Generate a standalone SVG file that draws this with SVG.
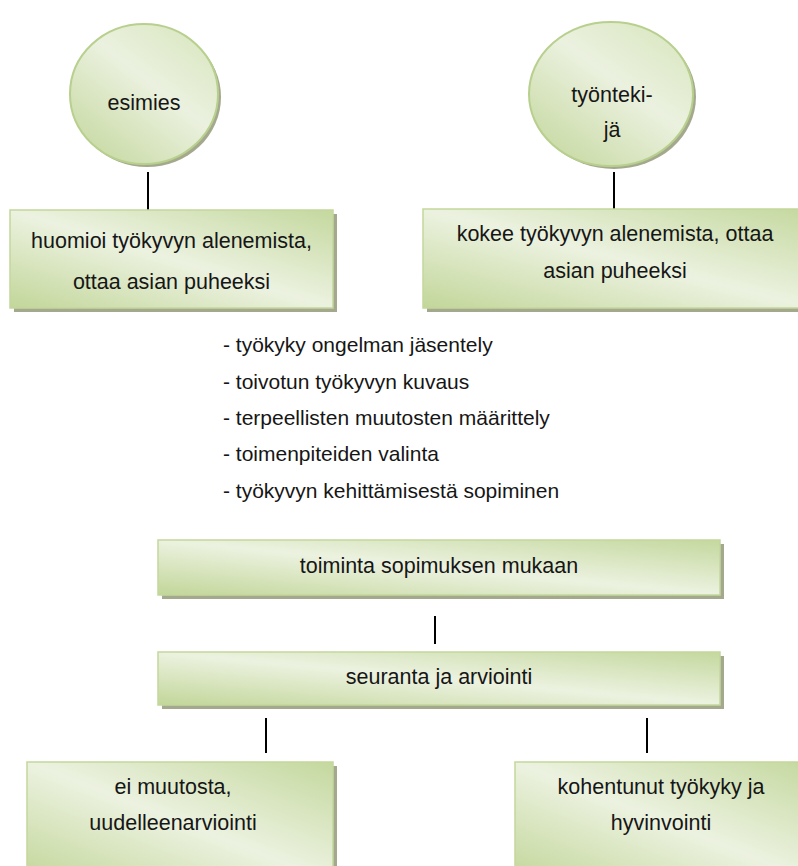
<svg xmlns="http://www.w3.org/2000/svg" width="798" height="866" viewBox="0 0 798 866">
  <defs>
    <linearGradient id="boxFill" x1="1" y1="0" x2="0" y2="1">
      <stop offset="0" stop-color="#c4d89e"/>
      <stop offset="0.5" stop-color="#ecf2e0"/>
      <stop offset="1" stop-color="#c2d699"/>
    </linearGradient>
    <linearGradient id="circleFill" x1="0.85" y1="0.1" x2="0.15" y2="0.95">
      <stop offset="0" stop-color="#dce8c5"/>
      <stop offset="0.4" stop-color="#ebf1df"/>
      <stop offset="1" stop-color="#c8daa4"/>
    </linearGradient>
    <style>
      .box { fill: url(#boxFill); stroke: #c3d79c; stroke-width: 1.5; }
      .bubble { fill: url(#circleFill); stroke: #b8d08e; stroke-width: 2; }
      .shadow { fill: #a4a98d; }
      .label { font-family: "Liberation Sans", Arial, sans-serif; font-size: 21.5px; fill: #161616; text-anchor: middle; }
      .list { font-family: "Liberation Sans", Arial, sans-serif; font-size: 21px; fill: #161616; }
      .link { stroke: #000; stroke-width: 2; fill: none; }
    </style>
  </defs>

  <rect width="798" height="866" fill="#ffffff"/>

  <!-- connectors -->
  <g id="connectors">
    <line class="link" x1="148" y1="172" x2="148" y2="211"/>
    <line class="link" x1="614" y1="172" x2="614" y2="210"/>
    <line class="link" x1="435" y1="616" x2="435" y2="644"/>
    <line class="link" x1="266" y1="718" x2="266" y2="753"/>
    <line class="link" x1="647" y1="718" x2="647" y2="753"/>
  </g>

  <!-- supervisor -->
  <g id="esimies">
    <ellipse class="shadow" cx="147" cy="97" rx="74" ry="70"/>
    <ellipse class="bubble" cx="144" cy="94" rx="74" ry="70"/>
    <text class="label" x="144" y="110">esimies</text>
  </g>

  <!-- employee -->
  <g id="tyontekija">
    <ellipse class="shadow" cx="614" cy="97" rx="82" ry="72"/>
    <ellipse class="bubble" cx="611" cy="94" rx="82" ry="72"/>
    <text class="label" x="612" y="102">työnteki-</text>
    <text class="label" x="612" y="137">jä</text>
  </g>

  <g id="huomioi">
    <rect class="shadow" x="14" y="214" width="323" height="98"/>
    <rect class="box" x="10" y="210" width="323" height="98"/>
    <text class="label" x="171.5" y="248">huomioi työkyvyn alenemista,</text>
    <text class="label" x="171.5" y="289">ottaa asian puheeksi</text>
  </g>

  <g id="kokee">
    <rect class="shadow" x="427" y="213" width="390" height="99"/>
    <rect class="box" x="423" y="209" width="390" height="99"/>
    <text class="label" x="615" y="241">kokee työkyvyn alenemista, ottaa</text>
    <text class="label" x="615" y="278">asian puheeksi</text>
  </g>

  <!-- discussion topics -->
  <g id="aiheet">
    <text class="list" x="223" y="352">- työkyky ongelman jäsentely</text>
    <text class="list" x="223" y="388.5">- toivotun työkyvyn kuvaus</text>
    <text class="list" x="223" y="425">- terpeellisten muutosten määrittely</text>
    <text class="list" x="223" y="461">- toimenpiteiden valinta</text>
    <text class="list" x="223" y="497.5">- työkyvyn kehittämisestä sopiminen</text>
  </g>

  <g id="toiminta">
    <rect class="shadow" x="162" y="544" width="562" height="55"/>
    <rect class="box" x="158" y="540" width="562" height="55"/>
    <text class="label" x="439" y="573">toiminta sopimuksen mukaan</text>
  </g>

  <g id="seuranta">
    <rect class="shadow" x="162" y="656" width="562" height="53"/>
    <rect class="box" x="158" y="652" width="562" height="53"/>
    <text class="label" x="439" y="684">seuranta ja arviointi</text>
  </g>

  <g id="ei-muutosta">
    <rect class="shadow" x="31" y="766" width="306" height="120"/>
    <rect class="box" x="27" y="762" width="306" height="120"/>
    <text class="label" x="173" y="794">ei muutosta,</text>
    <text class="label" x="173" y="830">uudelleenarviointi</text>
  </g>

  <g id="kohentunut">
    <rect class="shadow" x="519" y="766" width="300" height="120"/>
    <rect class="box" x="515" y="762" width="300" height="120"/>
    <text class="label" x="661" y="794">kohentunut työkyky ja</text>
    <text class="label" x="661" y="830">hyvinvointi</text>
  </g>
</svg>
